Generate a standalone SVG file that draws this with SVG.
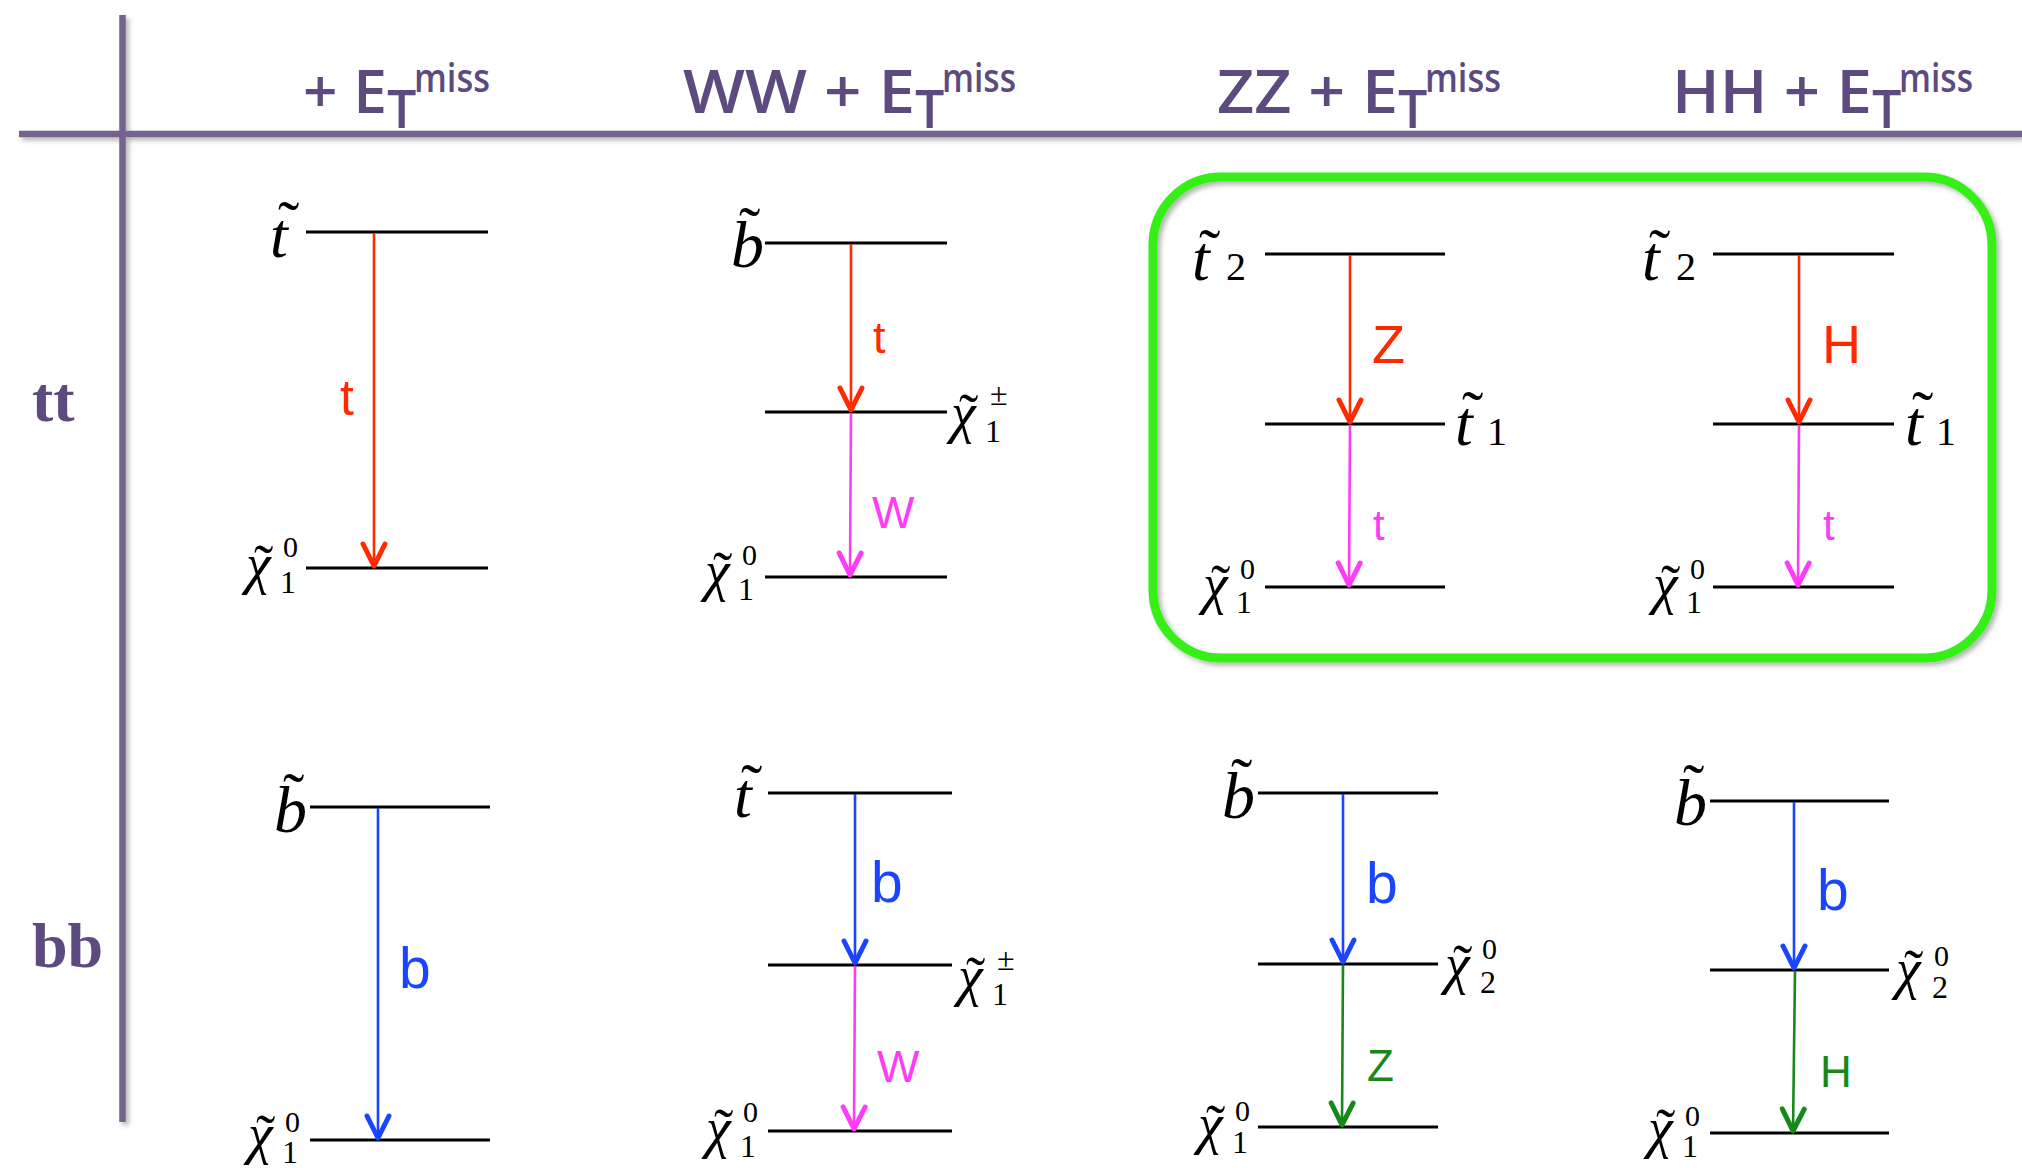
<svg xmlns="http://www.w3.org/2000/svg" width="2022" height="1168" viewBox="0 0 2022 1168">
<defs>
<style>
.lvl{stroke:#000;stroke-width:3;fill:none}
.sym{font-family:"Liberation Serif","Times New Roman",serif;fill:#000}
.it{font-style:italic}
.lab{font-family:"Liberation Sans",Arial,sans-serif}
.hdr{font-family:"Open Sans","Liberation Sans",sans-serif;font-weight:600;fill:#5d4a7f}
.row{font-family:"Liberation Serif","Times New Roman",serif;font-weight:bold;fill:#5d4a7f;font-size:64px}
.arr{stroke-width:2.6;fill:none}
.red{stroke:#ff2a00}.mag{stroke:#ff3cf5}.blu{stroke:#1a44ff}.grn{stroke:#17891a}
.tred{fill:#ff2a00}.tmag{fill:#ff3cf5}.tblu{fill:#1a44ff}.tgrn{fill:#17891a}
</style>
<filter id="sh" x="-5%" y="-5%" width="110%" height="110%">
<feDropShadow dx="3" dy="3" stdDeviation="2.5" flood-color="#000" flood-opacity="0.3"/>
</filter>
<marker id="mR" markerUnits="userSpaceOnUse" orient="auto" markerWidth="40" markerHeight="40" refX="0" refY="0" viewBox="-30 -20 40 40" overflow="visible"><path d="M-22,-11 L0,0 L-22,11" fill="none" stroke="#ff2a00" stroke-width="5" stroke-linejoin="round" stroke-linecap="round"/></marker>
<marker id="mM" markerUnits="userSpaceOnUse" orient="auto" markerWidth="40" markerHeight="40" refX="0" refY="0" viewBox="-30 -20 40 40" overflow="visible"><path d="M-22,-11 L0,0 L-22,11" fill="none" stroke="#ff3cf5" stroke-width="5" stroke-linejoin="round" stroke-linecap="round"/></marker>
<marker id="mB" markerUnits="userSpaceOnUse" orient="auto" markerWidth="40" markerHeight="40" refX="0" refY="0" viewBox="-30 -20 40 40" overflow="visible"><path d="M-22,-11 L0,0 L-22,11" fill="none" stroke="#1a44ff" stroke-width="5" stroke-linejoin="round" stroke-linecap="round"/></marker>
<marker id="mG" markerUnits="userSpaceOnUse" orient="auto" markerWidth="40" markerHeight="40" refX="0" refY="0" viewBox="-30 -20 40 40" overflow="visible"><path d="M-22,-11 L0,0 L-22,11" fill="none" stroke="#17891a" stroke-width="5" stroke-linejoin="round" stroke-linecap="round"/></marker>
</defs>
<rect width="2022" height="1168" fill="#fff"/>

<g id="grid" filter="url(#sh)">
<line x1="122.5" y1="15" x2="122.5" y2="1122" stroke="#75648f" stroke-width="6.5"/>
<line x1="19" y1="134" x2="2022" y2="134" stroke="#75648f" stroke-width="6.5"/>
</g>

<g id="headers">
<text class="hdr" font-size="60"><tspan x="303" y="113" textLength="84" lengthAdjust="spacingAndGlyphs">+ E</tspan><tspan x="387" y="128" font-size="52">T</tspan><tspan x="414" y="92" font-size="40" textLength="76" lengthAdjust="spacingAndGlyphs">miss</tspan></text>
<text class="hdr" font-size="60"><tspan x="683" y="113" textLength="232" lengthAdjust="spacingAndGlyphs">WW + E</tspan><tspan x="915" y="128" font-size="52">T</tspan><tspan x="942" y="92" font-size="40" textLength="74" lengthAdjust="spacingAndGlyphs">miss</tspan></text>
<text class="hdr" font-size="60"><tspan x="1217" y="113" textLength="181" lengthAdjust="spacingAndGlyphs">ZZ + E</tspan><tspan x="1398" y="128" font-size="52">T</tspan><tspan x="1425" y="92" font-size="40" textLength="76" lengthAdjust="spacingAndGlyphs">miss</tspan></text>
<text class="hdr" font-size="60"><tspan x="1672" y="113" textLength="200" lengthAdjust="spacingAndGlyphs">HH + E</tspan><tspan x="1872" y="128" font-size="52">T</tspan><tspan x="1899" y="92" font-size="40" textLength="74" lengthAdjust="spacingAndGlyphs">miss</tspan></text>
</g>

<g id="rows">
<text class="row" x="32" y="421">tt</text>
<text class="row" x="32" y="967">bb</text>
</g>

<g id="highlight" filter="url(#sh)">
<rect x="1153" y="177" width="839" height="481" rx="68" ry="68" fill="none" stroke="#35ef18" stroke-width="9"/>
</g>

<!-- Panel 1 -->
<g id="p1-stop">
<line class="lvl" x1="306" y1="232" x2="488" y2="232"/>
<text class="sym"><tspan class="it" x="270" y="257" font-size="64">t</tspan><tspan x="278" y="245" font-size="64">˜</tspan></text>
</g>
<g id="p1-lsp">
<line class="lvl" x1="306" y1="568" x2="488" y2="568"/>
<text class="sym"><tspan class="it" x="246" y="583" font-size="56">χ</tspan><tspan x="254" y="584" font-size="58">˜</tspan><tspan x="280" y="593" font-size="32">1</tspan><tspan x="283" y="557" font-size="30">0</tspan></text>
</g>

<!-- Panel 2 -->
<g id="p2-sb">
<line class="lvl" x1="765" y1="243" x2="947" y2="243"/>
<text class="sym"><tspan class="it" x="731" y="267" font-size="66">b</tspan><tspan x="739" y="251" font-size="64">˜</tspan></text>
</g>
<g id="p2-chargino">
<line class="lvl" x1="765" y1="412" x2="947" y2="412"/>
<text class="sym"><tspan class="it" x="951" y="432" font-size="56">χ</tspan><tspan x="959" y="433" font-size="58">˜</tspan><tspan x="985" y="442" font-size="32">1</tspan><tspan x="990" y="405" font-size="32">±</tspan></text>
</g>
<g id="p2-lsp">
<line class="lvl" x1="765" y1="577" x2="947" y2="577"/>
<text class="sym"><tspan class="it" x="705" y="590" font-size="56">χ</tspan><tspan x="713" y="591" font-size="58">˜</tspan><tspan x="738" y="600" font-size="32">1</tspan><tspan x="742" y="565" font-size="30">0</tspan></text>
</g>

<!-- Panel 3 -->
<g id="p3-st2">
<line class="lvl" x1="1265" y1="254" x2="1445" y2="254"/>
<text class="sym"><tspan class="it" x="1192" y="280" font-size="64">t</tspan><tspan x="1199" y="273" font-size="64">˜</tspan><tspan x="1226" y="280" font-size="40">2</tspan></text>
</g>
<g id="p3-st1">
<line class="lvl" x1="1265" y1="424" x2="1445" y2="424"/>
<text class="sym"><tspan class="it" x="1455" y="445" font-size="64">t</tspan><tspan x="1462" y="435" font-size="64">˜</tspan><tspan x="1487" y="445" font-size="40">1</tspan></text>
</g>
<g id="p3-lsp">
<line class="lvl" x1="1265" y1="587" x2="1445" y2="587"/>
<text class="sym"><tspan class="it" x="1203" y="603" font-size="56">χ</tspan><tspan x="1211" y="604" font-size="58">˜</tspan><tspan x="1236" y="613" font-size="32">1</tspan><tspan x="1240" y="579" font-size="30">0</tspan></text>
</g>

<!-- Panel 4 -->
<g id="p4-st2">
<line class="lvl" x1="1713" y1="254" x2="1894" y2="254"/>
<text class="sym"><tspan class="it" x="1642" y="280" font-size="64">t</tspan><tspan x="1649" y="273" font-size="64">˜</tspan><tspan x="1676" y="280" font-size="40">2</tspan></text>
</g>
<g id="p4-st1">
<line class="lvl" x1="1713" y1="424" x2="1894" y2="424"/>
<text class="sym"><tspan class="it" x="1905" y="445" font-size="64">t</tspan><tspan x="1912" y="435" font-size="64">˜</tspan><tspan x="1936" y="445" font-size="40">1</tspan></text>
</g>
<g id="p4-lsp">
<line class="lvl" x1="1713" y1="587" x2="1894" y2="587"/>
<text class="sym"><tspan class="it" x="1653" y="603" font-size="56">χ</tspan><tspan x="1661" y="604" font-size="58">˜</tspan><tspan x="1686" y="613" font-size="32">1</tspan><tspan x="1690" y="579" font-size="30">0</tspan></text>
</g>

<!-- Panel 5 -->
<g id="p5-sb">
<line class="lvl" x1="310" y1="807" x2="490" y2="807"/>
<text class="sym"><tspan class="it" x="274" y="832" font-size="66">b</tspan><tspan x="283" y="817" font-size="64">˜</tspan></text>
</g>
<g id="p5-lsp">
<line class="lvl" x1="310" y1="1140" x2="490" y2="1140"/>
<text class="sym"><tspan class="it" x="248" y="1153" font-size="56">χ</tspan><tspan x="256" y="1154" font-size="58">˜</tspan><tspan x="282" y="1163" font-size="32">1</tspan><tspan x="285" y="1132" font-size="30">0</tspan></text>
</g>

<!-- Panel 6 -->
<g id="p6-st">
<line class="lvl" x1="768" y1="793" x2="952" y2="793"/>
<text class="sym"><tspan class="it" x="734" y="817" font-size="64">t</tspan><tspan x="741" y="808" font-size="64">˜</tspan></text>
</g>
<g id="p6-chargino">
<line class="lvl" x1="768" y1="965" x2="952" y2="965"/>
<text class="sym"><tspan class="it" x="958" y="995" font-size="56">χ</tspan><tspan x="966" y="996" font-size="58">˜</tspan><tspan x="992" y="1005" font-size="32">1</tspan><tspan x="997" y="970" font-size="32">±</tspan></text>
</g>
<g id="p6-lsp">
<line class="lvl" x1="768" y1="1131" x2="952" y2="1131"/>
<text class="sym"><tspan class="it" x="706" y="1147" font-size="56">χ</tspan><tspan x="714" y="1148" font-size="58">˜</tspan><tspan x="740" y="1157" font-size="32">1</tspan><tspan x="743" y="1122" font-size="30">0</tspan></text>
</g>

<!-- Panel 7 -->
<g id="p7-sb">
<line class="lvl" x1="1258" y1="793" x2="1438" y2="793"/>
<text class="sym"><tspan class="it" x="1222" y="818" font-size="66">b</tspan><tspan x="1231" y="802" font-size="64">˜</tspan></text>
</g>
<g id="p7-n2">
<line class="lvl" x1="1258" y1="964" x2="1438" y2="964"/>
<text class="sym"><tspan class="it" x="1445" y="983" font-size="56">χ</tspan><tspan x="1453" y="984" font-size="58">˜</tspan><tspan x="1480" y="993" font-size="32">2</tspan><tspan x="1482" y="959" font-size="30">0</tspan></text>
</g>
<g id="p7-lsp">
<line class="lvl" x1="1258" y1="1127" x2="1438" y2="1127"/>
<text class="sym"><tspan class="it" x="1198" y="1143" font-size="56">χ</tspan><tspan x="1206" y="1144" font-size="58">˜</tspan><tspan x="1232" y="1153" font-size="32">1</tspan><tspan x="1235" y="1121" font-size="30">0</tspan></text>
</g>

<!-- Panel 8 -->
<g id="p8-sb">
<line class="lvl" x1="1710" y1="801" x2="1889" y2="801"/>
<text class="sym"><tspan class="it" x="1674" y="825" font-size="66">b</tspan><tspan x="1683" y="808" font-size="64">˜</tspan></text>
</g>
<g id="p8-n2">
<line class="lvl" x1="1710" y1="970" x2="1889" y2="970"/>
<text class="sym"><tspan class="it" x="1896" y="988" font-size="56">χ</tspan><tspan x="1904" y="989" font-size="58">˜</tspan><tspan x="1932" y="998" font-size="32">2</tspan><tspan x="1934" y="966" font-size="30">0</tspan></text>
</g>
<g id="p8-lsp">
<line class="lvl" x1="1710" y1="1133" x2="1889" y2="1133"/>
<text class="sym"><tspan class="it" x="1648" y="1147" font-size="56">χ</tspan><tspan x="1656" y="1148" font-size="58">˜</tspan><tspan x="1682" y="1157" font-size="32">1</tspan><tspan x="1685" y="1126" font-size="30">0</tspan></text>
</g>

<g id="connectors">
<line class="arr red" x1="374" y1="233" x2="374" y2="566" marker-end="url(#mR)"/>
<text class="lab tred" x="340" y="415" font-size="50">t</text>

<line class="arr red" x1="851" y1="244" x2="851" y2="410" marker-end="url(#mR)"/>
<text class="lab tred" x="873" y="353" font-size="45">t</text>
<line class="arr mag" x1="851" y1="413" x2="850" y2="575" marker-end="url(#mM)"/>
<text class="lab tmag" x="872" y="528" font-size="45">W</text>

<line class="arr red" x1="1350" y1="255" x2="1350" y2="422" marker-end="url(#mR)"/>
<text class="lab tred" x="1372" y="363" font-size="54">Z</text>
<line class="arr mag" x1="1350" y1="425" x2="1349" y2="585" marker-end="url(#mM)"/>
<text class="lab tmag" x="1373" y="540" font-size="42">t</text>

<line class="arr red" x1="1799" y1="255" x2="1799" y2="422" marker-end="url(#mR)"/>
<text class="lab tred" x="1822" y="363" font-size="54">H</text>
<line class="arr mag" x1="1799" y1="425" x2="1798" y2="585" marker-end="url(#mM)"/>
<text class="lab tmag" x="1823" y="540" font-size="42">t</text>

<line class="arr blu" x1="378" y1="808" x2="378" y2="1138" marker-end="url(#mB)"/>
<text class="lab tblu" x="399" y="988" font-size="57">b</text>

<line class="arr blu" x1="855" y1="794" x2="855" y2="963" marker-end="url(#mB)"/>
<text class="lab tblu" x="871" y="902" font-size="57">b</text>
<line class="arr mag" x1="855" y1="966" x2="854" y2="1129" marker-end="url(#mM)"/>
<text class="lab tmag" x="877" y="1082" font-size="45">W</text>

<line class="arr blu" x1="1343" y1="794" x2="1343" y2="962" marker-end="url(#mB)"/>
<text class="lab tblu" x="1366" y="903" font-size="57">b</text>
<line class="arr grn" x1="1343" y1="965" x2="1342" y2="1125" marker-end="url(#mG)"/>
<text class="lab tgrn" x="1367" y="1081" font-size="44">Z</text>

<line class="arr blu" x1="1794" y1="802" x2="1794" y2="968" marker-end="url(#mB)"/>
<text class="lab tblu" x="1817" y="910" font-size="57">b</text>
<line class="arr grn" x1="1795" y1="971" x2="1793" y2="1131" marker-end="url(#mG)"/>
<text class="lab tgrn" x="1820" y="1087" font-size="44">H</text>
</g>
</svg>
